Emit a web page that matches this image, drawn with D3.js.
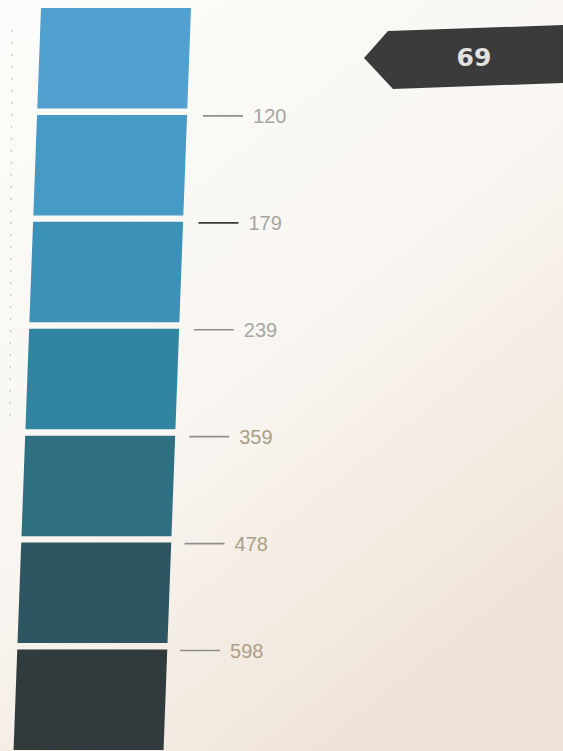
<!DOCTYPE html>
<html>
<head>
<meta charset="utf-8">
<script src="https://cdn.jsdelivr.net/npm/d3@7"></script>
<style>
  body { margin: 0; background: #f5f3ee; }
  svg { display: block; }
</style>
</head>
<body>
<div id="chart"></div>
<script>
// Colour steps of the card, top to bottom
const swatches = ["s1", "s2", "s3", "s4", "s5", "s6", "s7"];
const swatchColors = ["#51a0cf", "#469ac6", "#3b91b8", "#3285a1", "#2e6f82", "#2d5562", "#313b3e"];
// Values printed between the steps
const tickValues = [120, 179, 239, 359, 478, 598];
const pageNumber = "69";

const width = 563, height = 751;
const skew = -0.037; // photo is a bit slanted

const svg = d3.select("#chart").append("svg")
  .attr("width", width)
  .attr("height", height);

const defs = svg.append("defs");
const bg = defs.append("linearGradient").attr("id", "bg")
  .attr("x1", "0%").attr("y1", "0%").attr("x2", "60%").attr("y2", "100%");
bg.append("stop").attr("offset", "0%").attr("stop-color", "#fcfcfa");
bg.append("stop").attr("offset", "55%").attr("stop-color", "#f9f6f1");
bg.append("stop").attr("offset", "100%").attr("stop-color", "#efe4d9");

svg.append("rect").attr("width", width).attr("height", height).attr("fill", "url(#bg)");

const y = d3.scaleBand()
  .domain(swatches)
  .range([8, 750])
  .paddingInner(0.06);

const x0 = 41, w = 150;
const sx = (x, yy) => x + skew * (yy - 8);

const sw = svg.append("g").selectAll("path")
  .data(swatches)
  .join("path")
  .attr("d", d => {
    const t = y(d), b = y(d) + y.bandwidth();
    return d3.line()([[sx(x0, t), t], [sx(x0 + w, t), t], [sx(x0 + w, b), b], [sx(x0, b), b]]) + "Z";
  })
  .attr("fill", (d, i) => swatchColors[i]);

// ticks and labels, sitting in the gaps
const tickX = yy => 203 - 0.043 * (yy - 116);

const labels = svg.append("g").selectAll("g")
  .data(tickValues)
  .join("g")
  .attr("transform", (d, i) => {
    const yy = y(swatches[i + 1]) + 1;
    return `translate(${tickX(yy)},${yy})`;
  });

labels.append("line")
  .attr("x1", 0).attr("x2", 40)
  .attr("stroke", (d, i) => i === 1 ? "#3a3a3a" : "#8e8e8a")
  .attr("stroke-width", 1.6);

labels.append("text")
  .attr("x", 50)
  .attr("dy", "0.36em")
  .attr("font-family", "Liberation Sans, Arial, sans-serif")
  .attr("font-size", 20)
  .attr("fill", (d, i) => i >= 3 ? "#ab9e85" : "#a6a6a3")
  .text(d => d);

// faint guide marks at the left edge
svg.append("line")
  .attr("x1", 12).attr("y1", 30).attr("x2", 10).attr("y2", 420)
  .attr("stroke", "#c4c4bf").attr("stroke-width", 1.2)
  .attr("stroke-dasharray", "2 10");

// page number badge
const badge = svg.append("g");
badge.append("path")
  .attr("d", d3.line()([[388, 31], [563, 25], [563, 83], [393, 89], [364, 58]]) + "Z")
  .attr("fill", "#3b3b3b");
badge.append("text")
  .attr("x", 474).attr("y", 57)
  .attr("dy", "0.36em")
  .attr("text-anchor", "middle")
  .attr("font-family", "DejaVu Sans, sans-serif")
  .attr("font-weight", "bold")
  .attr("font-size", 25)
  .attr("fill", "#e2e2e0")
  .text(pageNumber);
</script>
</body>
</html>
